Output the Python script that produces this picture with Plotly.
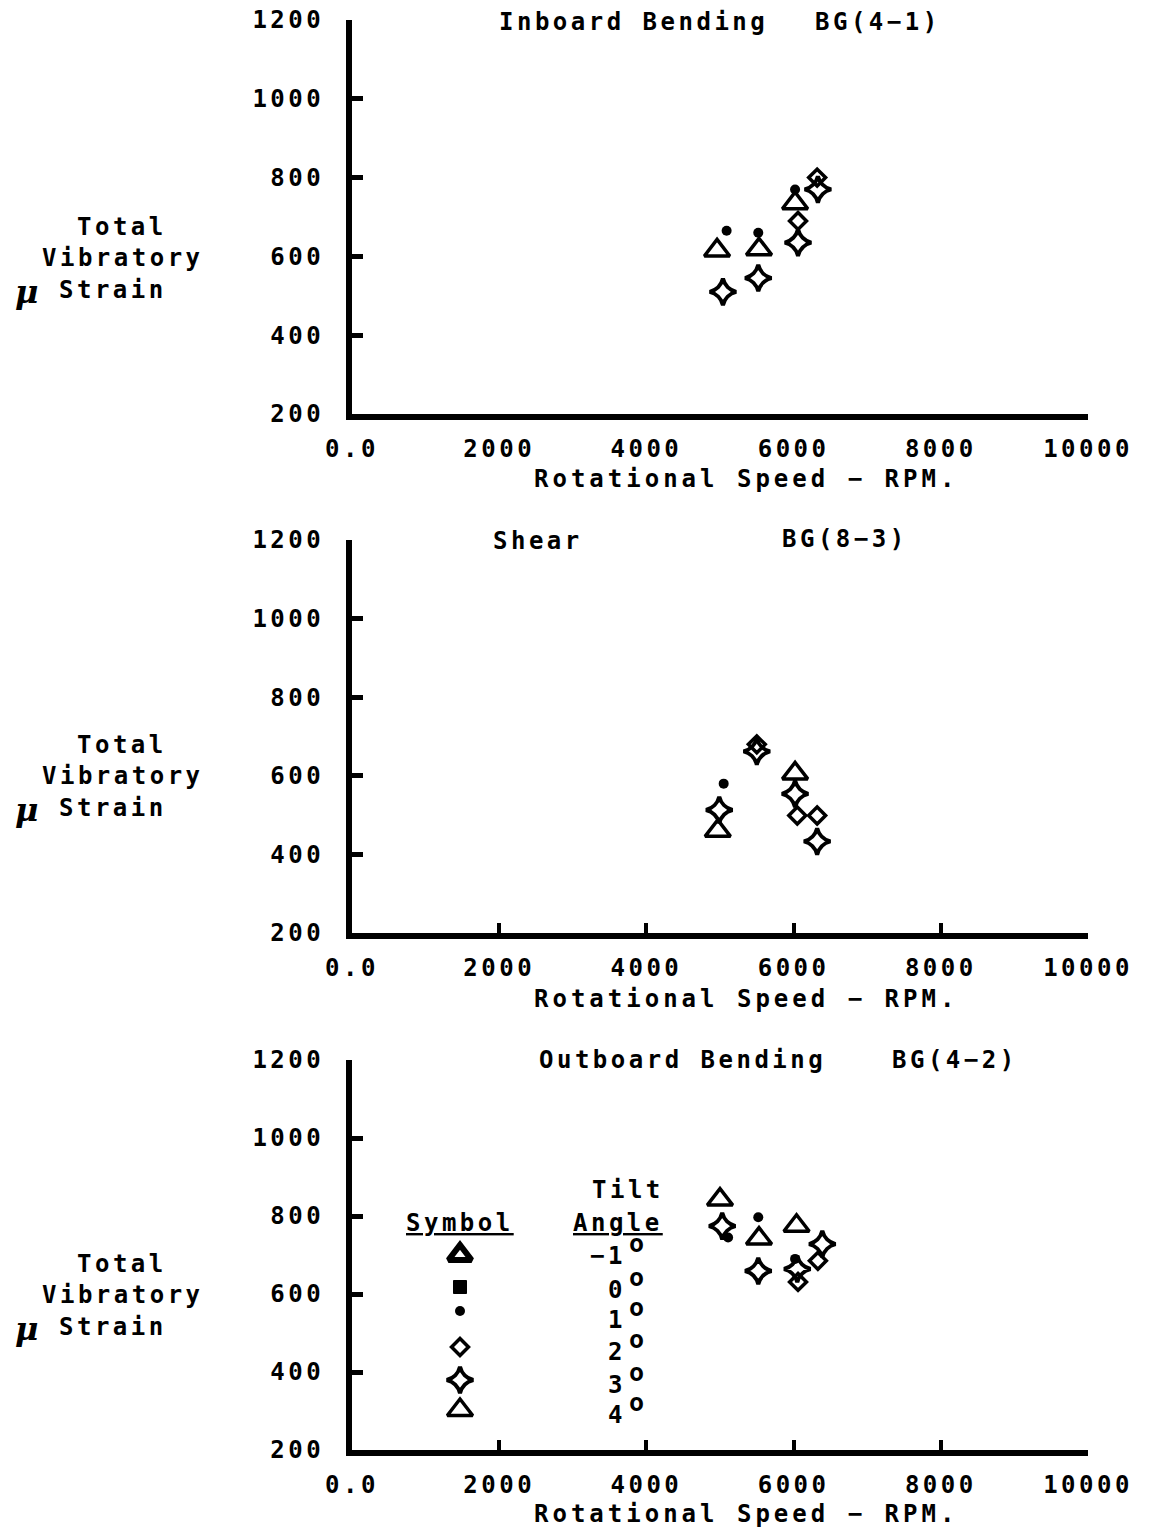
import plotly.graph_objects as go

# ---------------------------------------------------------------------------
# Measured vibratory strain (micro-strain) against rotational speed (RPM)
# for each blade-gauge location, grouped by tilt angle.
# ---------------------------------------------------------------------------
tilt_angles = ["−1", "0", "1", "2", "3", "4"]

x_tick_vals = [0, 2000, 4000, 6000, 8000, 10000]
x_tick_text = ["0.0", "2000", "4000", "6000", "8000", "10000"]
y_tick_vals = [200, 400, 600, 800, 1000, 1200]
y_tick_text = ["200", "400", "600", "800", "1000", "1200"]

# Inboard Bending BG(4-1)
inb_t1_rpm, inb_t1_strain = [5090, 5520, 6020], [665, 660, 770]
inb_t2_rpm, inb_t2_strain = [6060, 6320], [690, 800]
inb_t3_rpm, inb_t3_strain = [5040, 5520, 6060, 6330], [510, 545, 635, 770]
inb_t4_rpm, inb_t4_strain = [4960, 5530, 6020], [615, 618, 735]

# Shear BG(8-3)
shr_t1_rpm, shr_t1_strain = [5050], [580]
shr_t2_rpm, shr_t2_strain = [5500, 6050, 6320], [680, 499, 499]
shr_t3_rpm, shr_t3_strain = [4990, 5500, 6020, 6320], [513, 662, 554, 433]
shr_t4_rpm, shr_t4_strain = [4970, 6020], [460, 606]

# Outboard Bending BG(4-2)
outb_t1_rpm, outb_t1_strain = [5110, 5520, 6020], [745, 797, 690]
outb_t2_rpm, outb_t2_strain = [6060, 6330], [631, 685]
outb_t3_rpm, outb_t3_strain = [5030, 5520, 6050, 6390], [774, 659, 664, 728]
outb_t4_rpm, outb_t4_strain = [5000, 5530, 6040], [842, 742, 775]

panel_titles = [("Inboard Bending", "BG(4−1)"),
                ("Shear", "BG(8−3)"),
                ("Outboard Bending", "BG(4−2)")]

# ---------------------------------------------------------------------------
# Page geometry (pixels)
# ---------------------------------------------------------------------------
W, H = 1150, 1530
X_LEFT, X_RIGHT = 352, 1088
PANELS = [(20, 414), (540, 933), (1060, 1450)]   # (top, bottom) of each plot area

FONT = "DejaVu Sans Mono"
FS = 24
SPACING = 3.5
BASE_FONT = dict(family=FONT, size=FS, color="black", weight="bold")


def spaced(s, gap=SPACING):
    return f'<span style="letter-spacing:{gap}px">{s}</span>'


def px(x):
    return x / W


def py(y):
    return 1 - y / H


SYMBOLS = {
    "-1": dict(symbol="triangle-up-open", size=20, color="black", line=dict(width=6, color="black")),
    "0": dict(symbol="square", size=13, color="black", line=dict(width=1, color="black")),
    "1": dict(symbol="circle", size=10, color="black", line=dict(width=0)),
    "2": dict(symbol="diamond-open", size=13, color="black", line=dict(width=3.5, color="black")),
    "3": dict(symbol="star-diamond-open", size=19, color="black", line=dict(width=4, color="black")),
    "4": dict(symbol="triangle-up-open", size=22, color="black", line=dict(width=3.5, color="black")),
}

fig = go.Figure()

panel_series = [
    [("4", inb_t4_rpm, inb_t4_strain), ("3", inb_t3_rpm, inb_t3_strain),
     ("2", inb_t2_rpm, inb_t2_strain), ("1", inb_t1_rpm, inb_t1_strain)],
    [("4", shr_t4_rpm, shr_t4_strain), ("3", shr_t3_rpm, shr_t3_strain),
     ("2", shr_t2_rpm, shr_t2_strain), ("1", shr_t1_rpm, shr_t1_strain)],
    [("4", outb_t4_rpm, outb_t4_strain), ("3", outb_t3_rpm, outb_t3_strain),
     ("2", outb_t2_rpm, outb_t2_strain), ("1", outb_t1_rpm, outb_t1_strain)],
]

for i, series in enumerate(panel_series):
    suffix = "" if i == 0 else str(i + 1)
    for tilt, xs, ys in series:
        fig.add_trace(go.Scatter(
            x=xs, y=ys, mode="markers", xaxis="x" + suffix, yaxis="y" + suffix,
            marker=SYMBOLS[tilt], showlegend=False, hoverinfo="skip"))

# Symbol key drawn inside the lowest panel
key_px_x = 460
key_px_y = [1255, 1287, 1311, 1347, 1380, 1410]
top3, bot3 = PANELS[2]


def to_rpm(x):
    return (x - X_LEFT) / (X_RIGHT - X_LEFT) * 10000


def to_strain(y):
    return 1200 - (y - top3) / (bot3 - top3) * 1000


for tilt, ky in zip(["-1", "0", "1", "2", "3", "4"], key_px_y):
    fig.add_trace(go.Scatter(
        x=[to_rpm(key_px_x)], y=[to_strain(ky)], mode="markers",
        xaxis="x3", yaxis="y3", marker=SYMBOLS[tilt],
        showlegend=False, hoverinfo="skip"))

layout = dict(
    width=W, height=H,
    margin=dict(l=0, r=0, t=0, b=0, pad=0),
    paper_bgcolor="white", plot_bgcolor="white",
    showlegend=False,
    font=BASE_FONT,
)

annotations = []
for i, (top, bot) in enumerate(PANELS):
    suffix = "" if i == 0 else str(i + 1)
    ydom = [py(bot), py(top)]
    layout["xaxis" + suffix] = dict(
        domain=[px(X_LEFT), px(X_RIGHT)], anchor="y" + suffix,
        range=[0, 10000], showgrid=False, zeroline=False, automargin=False,
        showline=True, linewidth=6, linecolor="black",
        ticks="" if i == 0 else "inside", ticklen=10, tickwidth=4, tickcolor="black",
        tickvals=x_tick_vals, ticktext=[spaced(t) for t in x_tick_text],
        tickfont=BASE_FONT,
        ticklabelstandoff=8,
    )
    layout["yaxis" + suffix] = dict(
        domain=ydom, anchor="x" + suffix,
        range=[200, 1200], showgrid=False, zeroline=False, automargin=False,
        showline=True, linewidth=6, linecolor="black",
        ticks="inside", ticklen=11, tickwidth=5, tickcolor="black",
        tickvals=y_tick_vals, ticktext=[spaced(t) for t in y_tick_text],
        tickfont=BASE_FONT,
        ticklabelstandoff=17,
    )

    off = [0, 518, 1037][i]
    # x-axis title
    annotations.append(dict(
        text=spaced("Rotational Speed − RPM.", 4), x=px(746), y=py(479 + [0, 520, 1035][i]),
        xref="paper", yref="paper", xanchor="center", yanchor="middle", showarrow=False))
    # y-axis title
    annotations.append(dict(
        text=spaced("Total"), x=px(122), y=py(227 + off),
        xref="paper", yref="paper", xanchor="center", yanchor="middle", showarrow=False))
    annotations.append(dict(
        text=spaced("Vibratory"), x=px(123), y=py(258 + off),
        xref="paper", yref="paper", xanchor="center", yanchor="middle", showarrow=False))
    annotations.append(dict(
        text="μ", x=px(27), y=py(292 + off),
        xref="paper", yref="paper", xanchor="center", yanchor="middle", showarrow=False,
        font=dict(family="DejaVu Serif", size=32, style="italic", color="black", weight="bold")))
    annotations.append(dict(
        text=spaced("Strain"), x=px(57), y=py(290 + off),
        xref="paper", yref="paper", xanchor="left", yanchor="middle", showarrow=False))

# Panel titles
title_pos = [((633, 22), (878, 22)), ((538, 541), (845, 539)), ((682, 1060), (955, 1060))]
for (name, gauge), ((nx, ny), (gx, gy)) in zip(panel_titles, title_pos):
    annotations.append(dict(text=spaced(name), x=px(nx), y=py(ny), xref="paper", yref="paper",
                            xanchor="center", yanchor="middle", showarrow=False))
    annotations.append(dict(text=spaced(gauge), x=px(gx), y=py(gy), xref="paper", yref="paper",
                            xanchor="center", yanchor="middle", showarrow=False))

# Key headings and tilt-angle labels
UNDER_FONT = dict(BASE_FONT, lineposition="under")
annotations.append(dict(text=spaced("Symbol"), x=px(460), y=py(1223), xref="paper", yref="paper",
                        xanchor="center", yanchor="middle", showarrow=False, font=UNDER_FONT))
annotations.append(dict(text=spaced("Tilt"), x=px(628), y=py(1190), xref="paper", yref="paper",
                        xanchor="center", yanchor="middle", showarrow=False))
annotations.append(dict(text=spaced("Angle"), x=px(618), y=py(1223), xref="paper", yref="paper",
                        xanchor="center", yanchor="middle", showarrow=False, font=UNDER_FONT))

label_px_y = [1256, 1290, 1320, 1352, 1385, 1415]
for label, ly in zip(tilt_angles, label_px_y):
    annotations.append(dict(text=spaced(label), x=px(628), y=py(ly), xref="paper", yref="paper",
                            xanchor="right", yanchor="middle", showarrow=False))
    annotations.append(dict(text="o", x=px(627), y=py(ly - 13), xref="paper", yref="paper",
                            xanchor="left", yanchor="middle", showarrow=False,
                            font=dict(family=FONT, size=25, weight="bold", color="black")))

layout["annotations"] = annotations
fig.update_layout(**layout)

fig.write_html("out.html")
